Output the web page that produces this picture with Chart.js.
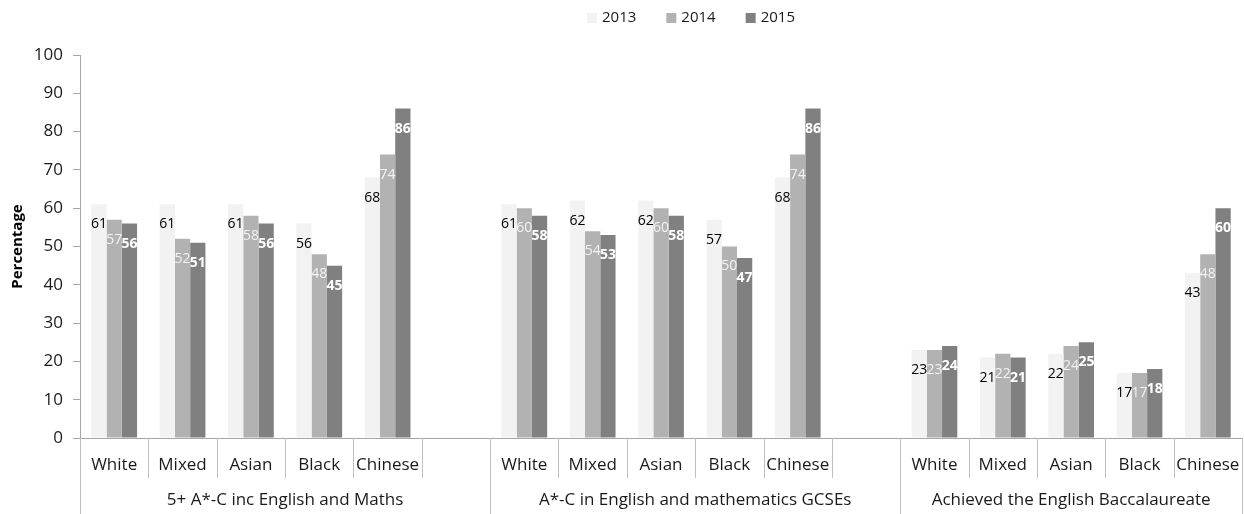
<!DOCTYPE html>
<html>
<head>
<meta charset="utf-8">
<script src="https://cdn.jsdelivr.net/npm/chart.js@4.4.1/dist/chart.umd.min.js"></script>
<style>
    html, body { margin: 0; padding: 0; background: #fff; }
    #wrap { width: 1244px; height: 514px; }
</style>
</head>
<body>
<div id="wrap"><canvas id="chart"></canvas></div>
<script>
// categories: 5 ethnic groups per measure, with an empty slot between measures
const categories = [
    'White', 'Mixed', 'Asian', 'Black', 'Chinese', '',
    'White', 'Mixed', 'Asian', 'Black', 'Chinese', '',
    'White', 'Mixed', 'Asian', 'Black', 'Chinese'
];
const groupNames = [
    '5+ A*-C inc English and Maths',
    'A*-C in English and mathematics GCSEs',
    'Achieved the English Baccalaureate'
];
const groupFirst = [0, 6, 12];
const groupLast = [5, 11, 16];

const years = ['2013', '2014', '2015'];
const values2013 = [61, 61, 61, 56, 68, null, 61, 62, 62, 57, 68, null, 23, 21, 22, 17, 43];
const values2014 = [57, 52, 58, 48, 74, null, 60, 54, 60, 50, 74, null, 23, 22, 24, 17, 48];
const values2015 = [56, 51, 56, 45, 86, null, 58, 53, 58, 47, 86, null, 24, 21, 25, 18, 60];

const yTicks = [0, 10, 20, 30, 40, 50, 60, 70, 80, 90, 100];

const barColors = ['#f2f2f2', '#b2b2b2', '#808080'];
const labelColors = ['#000000', '#f2f2f2', '#ffffff'];
const labelWeights = ['normal', 'normal', 'bold'];

const FONT = "'Open Sans', sans-serif";
const lineColor = '#bfbfbf';

// values drawn inside the top of each bar
const barLabels = {
    id: 'barLabels',
    afterDatasetsDraw(chart) {
        const ctx = chart.ctx;
        chart.data.datasets.forEach((ds, i) => {
            const meta = chart.getDatasetMeta(i);
            meta.data.forEach((bar, j) => {
                const v = ds.data[j];
                if (v === null || v === undefined) return;
                ctx.save();
                ctx.font = `${labelWeights[i]} 14px ${FONT}`;
                ctx.fillStyle = labelColors[i];
                ctx.textAlign = 'center';
                ctx.textBaseline = 'middle';
                ctx.fillText(String(v), bar.x, bar.y + 20);
                ctx.restore();
            });
        });
    }
};

// separators under the x axis and the measure names
const groupAxis = {
    id: 'groupAxis',
    afterDraw(chart) {
        const ctx = chart.ctx;
        const x = chart.scales.x;
        const n = categories.length;
        const slot = x.width / n;
        const top = x.top;
        ctx.save();
        ctx.strokeStyle = lineColor;
        ctx.lineWidth = 1;
        for (let k = 0; k <= n; k++) {
            const px = Math.round(x.left + k * slot) + 0.5;
            const long = k === 0 || k === n || groupFirst.includes(k);
            ctx.beginPath();
            ctx.moveTo(px, top);
            ctx.lineTo(px, long ? chart.height : top + 40);
            ctx.stroke();
        }
        ctx.font = `17px ${FONT}`;
        ctx.fillStyle = '#1a1a1a';
        ctx.textAlign = 'center';
        ctx.textBaseline = 'middle';
        groupNames.forEach((name, g) => {
            const a = x.left + groupFirst[g] * slot;
            const b = x.left + (groupLast[g] + 1) * slot;
            ctx.fillText(name, (a + b) / 2, top + 62);
        });
        ctx.restore();
    }
};

// legend row at the top
const topLegend = {
    id: 'topLegend',
    afterDraw(chart) {
        const ctx = chart.ctx;
        ctx.save();
        ctx.font = `15px ${FONT}`;
        ctx.textBaseline = 'middle';
        const box = 10, gap = 5, itemGap = 30;
        const widths = years.map(y => box + gap + ctx.measureText(y).width);
        const total = widths.reduce((a, b) => a + b, 0) + itemGap * (years.length - 1);
        let px = 691 - total / 2;
        const cy = 18;
        years.forEach((y, i) => {
            ctx.fillStyle = barColors[i];
            ctx.fillRect(px, cy - box / 2, box, box);
            ctx.fillStyle = '#1a1a1a';
            ctx.fillText(y, px + box + gap, cy);
            px += widths[i] + itemGap;
        });
        ctx.restore();
    }
};

const seriesValues = [values2013, values2014, values2015];

new Chart(document.getElementById('chart'), {
    type: 'bar',
    data: {
        labels: categories,
        datasets: years.map((y, i) => ({
            label: y,
            data: seriesValues[i],
            backgroundColor: barColors[i],
            borderWidth: 0,
            categoryPercentage: 0.67,
            barPercentage: 1.0
        }))
    },
    options: {
        responsive: true,
        maintainAspectRatio: false,
        animation: false,
        layout: {
            padding: { top: 55, right: 2, bottom: 0, left: 0 }
        },
        plugins: {
            legend: { display: false },
            tooltip: { enabled: false }
        },
        scales: {
            x: {
                grid: { display: false },
                border: { display: true, color: '#a6a6a6' },
                ticks: {
                    autoSkip: false,
                    maxRotation: 0,
                    padding: 9,
                    color: '#1a1a1a',
                    font: { family: FONT, size: 17 }
                },
                afterFit: scale => {
                    scale.height = 76;
                    scale.paddingLeft = 0;
                    scale.paddingRight = 0;
                }
            },
            y: {
                min: 0,
                max: 100,
                afterBuildTicks: scale => {
                    scale.ticks = yTicks.map(v => ({ value: v }));
                },
                grid: { drawOnChartArea: false, tickLength: 7, color: '#a6a6a6' },
                border: { display: true, color: '#a6a6a6' },
                ticks: {
                    padding: 10,
                    color: '#1a1a1a',
                    font: { family: FONT, size: 17 }
                },
                title: {
                    display: true,
                    text: 'Percentage',
                    color: '#000',
                    padding: { top: 9, bottom: 0 },
                    font: { family: FONT, size: 15, weight: 'bold' }
                },
                afterFit: scale => { scale.width = 80; }
            }
        }
    },
    plugins: [barLabels, groupAxis, topLegend]
});
</script>
</body>
</html>
